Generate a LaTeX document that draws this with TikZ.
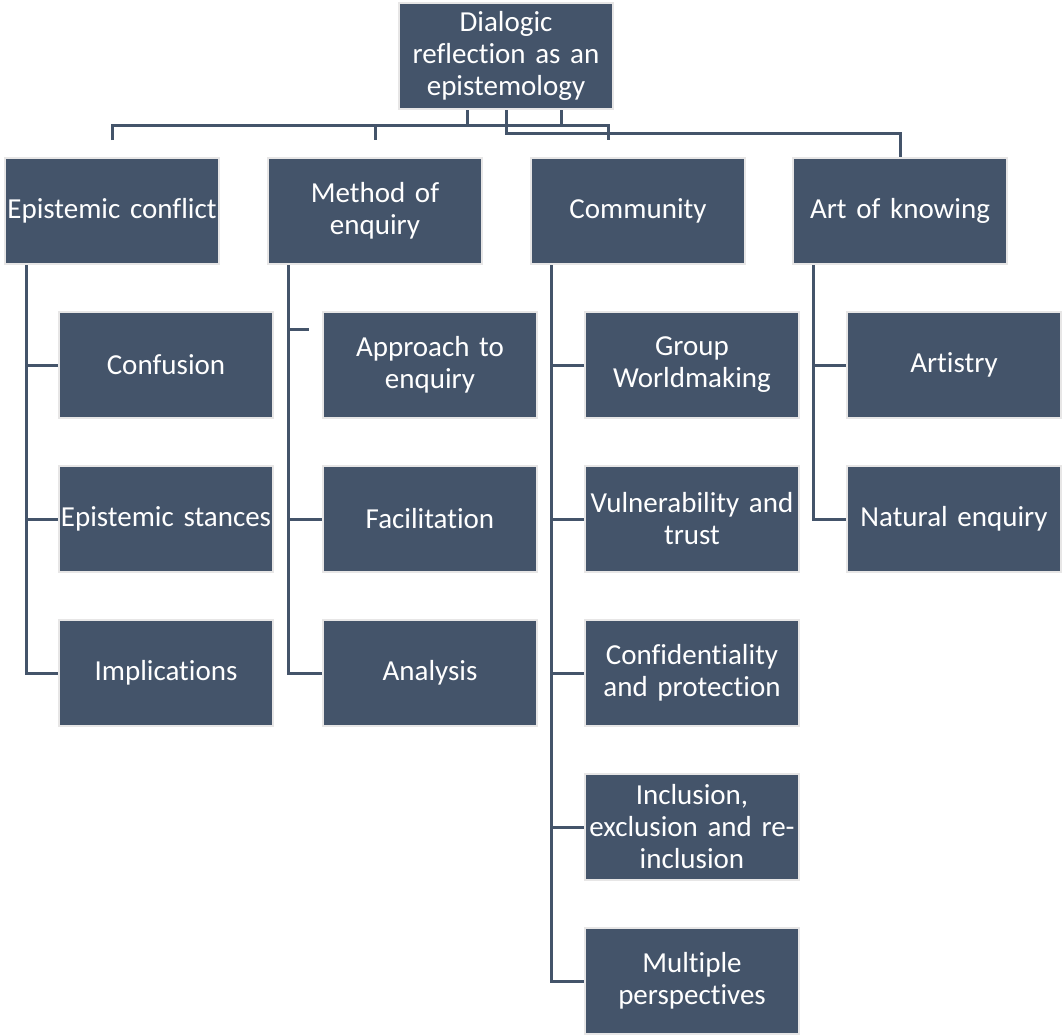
\documentclass[tikz,border=0pt]{standalone}
\usepackage{fontspec}
\setmainfont{Carlito}[Ligatures=NoCommon]
\usetikzlibrary{calc}
\definecolor{boxfill}{HTML}{44546A}
\definecolor{boxedge}{HTML}{E7E6E6}
\definecolor{linecol}{HTML}{44546A}
\begin{document}
\begin{tikzpicture}[x=1pt,y=-1pt,
  box/.style={draw=boxedge, line width=2.5pt, fill=boxfill, text=white,
    minimum width=214pt, minimum height=106pt, inner sep=0pt,
    text width=212pt, align=center, font=\fontsize{29}{32}\selectfont},
  conn/.style={draw=linecol, line width=3pt}]
\useasboundingbox (0,0) rectangle (1062,1034);
\node[box] (root) at (506,56) {Dialogic\\reflection as an\\epistemology};
\node[box] (ec) at (112,211) {Epistemic conflict};
\node[box] (mo) at (375,211) {Method of\\enquiry};
\node[box] (cm) at (638,211) {Community};
\node[box] (ak) at (900,211) {Art of knowing};
\node[box] (cf) at (166,365) {Confusion};
\node[box] (es) at (166,519) {Epistemic stances};
\node[box] (im) at (166,673) {Implications};
\node[box] (ap) at (430,365) {Approach to\\enquiry};
\node[box] (fa) at (430,519) {Facilitation};
\node[box] (an) at (430,673) {Analysis};
\node[box] (gw) at (692,365) {Group\\Worldmaking};
\node[box] (vt) at (692,519) {Vulnerability and\\trust};
\node[box] (cp) at (692,673) {Confidentiality\\and protection};
\node[box] (ie) at (692,827) {Inclusion,\\exclusion and re-\\inclusion};
\node[box] (mp) at (692,981) {Multiple\\perspectives};
\node[box] (ar) at (954,365) {Artistry};
\node[box] (ne) at (954,519) {Natural enquiry};
% top-level connectors
\coordinate (busA) at (0,125);
\coordinate (busB) at (0,133);
\coordinate (stubEnd) at (0,140);
\coordinate (cmStub) at (608,140);
\draw[conn] ([xshift=-39pt]root.south) -- ([xshift=-39pt]root.south |- busA);
\draw[conn] ([xshift=55pt]root.south) -- ([xshift=55pt]root.south |- busA);
\draw[conn] (ec.north |- stubEnd) -- (ec.north |- busA) -- (cmStub |- busA) -- (cmStub);
\draw[conn] (mo.north |- busA) -- (mo.north |- stubEnd);
\draw[conn] (root.south) |- (ak.north |- busB) -- (ak.north);
% Epistemic conflict
\draw[conn] ([xshift=-86pt]ec.south) |- (im.west);
\draw[conn] ([xshift=-86pt]ec.south |- cf.west) -- (cf.west);
\draw[conn] ([xshift=-86pt]ec.south |- es.west) -- (es.west);
% Method of enquiry
\coordinate (apEnd) at (309,329);
\draw[conn] ([xshift=-87pt]mo.south) |- (an.west);
\draw[conn] ([xshift=-87pt]mo.south |- apEnd) -- (apEnd);
\draw[conn] ([xshift=-87pt]mo.south |- fa.west) -- (fa.west);
% Community
\draw[conn] ([xshift=-87pt]cm.south) |- (mp.west);
\draw[conn] ([xshift=-87pt]cm.south |- gw.west) -- (gw.west);
\draw[conn] ([xshift=-87pt]cm.south |- vt.west) -- (vt.west);
\draw[conn] ([xshift=-87pt]cm.south |- cp.west) -- (cp.west);
\draw[conn] ([xshift=-87pt]cm.south |- ie.west) -- (ie.west);
% Art of knowing
\draw[conn] ([xshift=-87pt]ak.south) |- (ne.west);
\draw[conn] ([xshift=-87pt]ak.south |- ar.west) -- (ar.west);
\end{tikzpicture}
\end{document}
